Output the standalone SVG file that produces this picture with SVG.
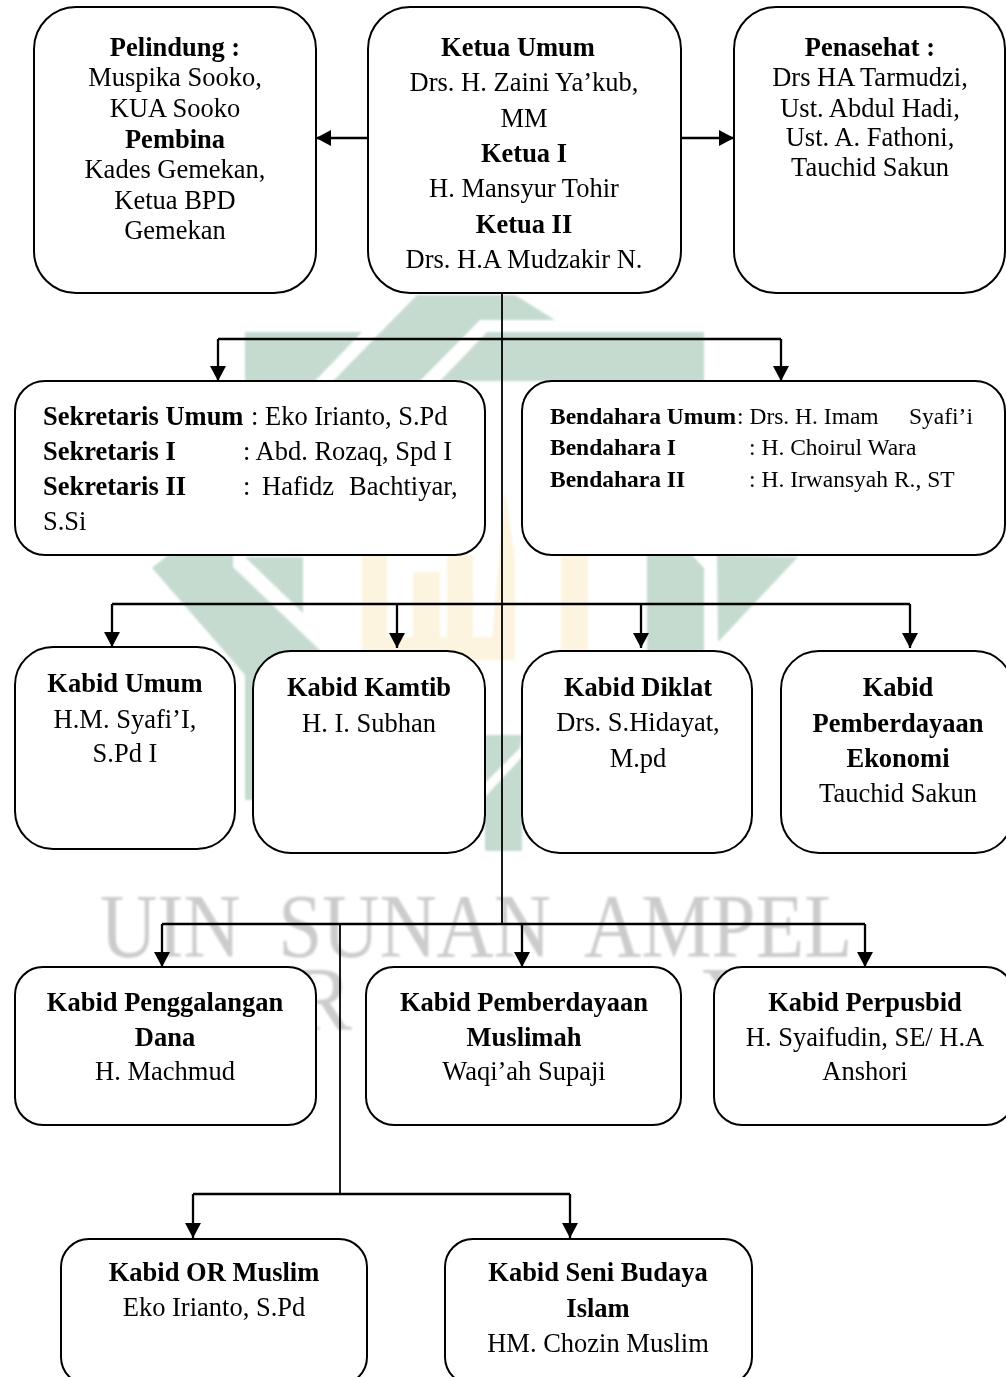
<svg xmlns="http://www.w3.org/2000/svg" width="1006" height="1377" viewBox="0 0 1006 1377">
<style>
text{font-family:"Liberation Serif","Times New Roman",serif;font-size:26.5px;fill:#000}
.c{text-anchor:middle}
.b{font-weight:bold}
.s{font-size:23.5px}
.n{fill:#fff;stroke:#000;stroke-width:2}
.g{fill:#c5dbcf}
.y{fill:#fdf4e0}
.w{font-size:90px;fill:#cccccc}
.l{fill:none;stroke:#000;stroke-width:2.3}
.t{fill:none;stroke:#000;stroke-width:1.8}
.a{marker-end:url(#h)}
</style>
<defs>
<marker id="h" markerUnits="userSpaceOnUse" markerWidth="16" markerHeight="16" refX="15" refY="8" orient="auto"><path d="M0 0L15 8L0 16Z" fill="#000"/></marker>
<filter id="bl" x="-5%" y="-5%" width="110%" height="110%"><feGaussianBlur stdDeviation="0.8"/></filter>
</defs>
<rect width="1006" height="1377" fill="#fff"/>
<g id="watermark" filter="url(#bl)">
<path class="g" d="M245 332H362L315 381H245Z"/>
<path class="g" d="M333 381L417 295H515L555 320H480L420 381Z"/>
<path class="g" d="M487 332H704V381H440Z"/>
<path class="g" d="M152 568L168 555H233V567L330 660V800H245V675Z"/>
<path class="g" d="M245 557H303V613Z"/>
<path class="g" d="M647 555H692L704 568V660H647Z"/>
<path class="g" d="M717 555L798 557L718 642Z"/>
<path class="g" d="M485 735H522L520 748L485 783Z"/>
<path class="g" d="M485 797L522 757V851H485Z"/>
<path class="y" d="M362 555H387V637H413V572H440V637H447V555H473V637H492L505 490L515 560V660H362Z"/>
<path class="y" d="M561 555H588V650H561Z"/>
<text class="w" transform="translate(100 957) scale(.88 1)" word-spacing="20">UIN SUNAN AMPEL</text>
<text class="w" x="292" y="1030">R</text>
<text class="w" x="702" y="1030">Y</text>
</g>
<g id="connectors">
<path class="t" d="M502 293V924"/>
<path class="l a" d="M368 138H316"/>
<path class="l a" d="M681 138H734"/>
<path class="l a" d="M218 339V381"/>
<path class="l a" d="M781 339V381"/>
<path class="l" d="M218 339H781"/>
<path class="l" d="M112 604H910"/>
<path class="l a" d="M112 604V647"/>
<path class="l a" d="M397 604V648"/>
<path class="l a" d="M641 604V648"/>
<path class="l a" d="M910 604V648"/>
<path class="l" d="M162 924H865"/>
<path class="l a" d="M162 924V967"/>
<path class="l a" d="M522 924V967"/>
<path class="l a" d="M865 924V967"/>
<path class="t" d="M340 924V1194"/>
<path class="l" d="M193 1194H570"/>
<path class="l a" d="M193 1194V1238"/>
<path class="l a" d="M570 1194V1238"/>
</g>
<g id="pelindung"><rect class="n" x="34" y="7" width="282" height="286" rx="42"/>
<text class="c b" x="175" y="56">Pelindung :</text><text class="c" x="175" y="86">Muspika Sooko,</text><text class="c" x="175" y="117">KUA Sooko</text><text class="c b" x="175" y="148">Pembina</text><text class="c" x="175" y="178">Kades Gemekan,</text><text class="c" x="175" y="209">Ketua BPD</text><text class="c" x="175" y="239">Gemekan</text></g>
<g id="ketua"><rect class="n" x="368" y="7" width="313" height="286" rx="42"/>
<text class="c b" x="518" y="56">Ketua Umum</text><text class="c" x="524" y="91">Drs. H. Zaini Ya’kub,</text><text class="c" x="524" y="127">MM</text><text class="c b" x="524" y="162">Ketua I</text><text class="c" x="524" y="197">H. Mansyur Tohir</text><text class="c b" x="524" y="233">Ketua II</text><text class="c" x="524" y="268">Drs. H.A Mudzakir N.</text></g>
<g id="penasehat"><rect class="n" x="734" y="7" width="271" height="286" rx="42"/>
<text class="c b" x="870" y="56">Penasehat :</text><text class="c" x="870" y="86">Drs HA Tarmudzi,</text><text class="c" x="870" y="117">Ust. Abdul Hadi,</text><text class="c" x="870" y="146">Ust. A. Fathoni,</text><text class="c" x="870" y="176">Tauchid Sakun</text></g>
<g id="sekretaris"><rect class="n" x="15" y="381" width="470" height="174" rx="30"/>
<text class="b" x="43" y="425">Sekretaris Umum</text><text x="251" y="425">: Eko Irianto, S.Pd</text>
<text class="b" x="43" y="460">Sekretaris I</text><text x="243" y="460">: Abd. Rozaq, Spd I</text>
<text class="b" x="43" y="495">Sekretaris II</text><text x="243" y="495">:</text><text x="262" y="495">Hafidz</text><text x="349" y="495">Bachtiyar,</text>
<text x="43" y="530">S.Si</text></g>
<g id="bendahara"><rect class="n" x="522" y="381" width="483" height="174" rx="30"/>
<text class="b s" x="550" y="424">Bendahara Umum</text><text class="s" x="737" y="424">: Drs. H. Imam</text><text class="s" x="909" y="424">Syafi’i</text>
<text class="b s" x="550" y="455">Bendahara I</text><text class="s" x="749" y="455">: H. Choirul Wara</text>
<text class="b s" x="550" y="487">Bendahara II</text><text class="s" x="749" y="487">: H. Irwansyah R., ST</text></g>
<g id="umum"><rect class="n" x="15" y="647" width="220" height="202" rx="38"/>
<text class="c b" x="125" y="692">Kabid Umum</text><text class="c" x="125" y="728">H.M. Syafi’I,</text><text class="c" x="125" y="762">S.Pd I</text></g>
<g id="kamtib"><rect class="n" x="253" y="651" width="232" height="202" rx="38"/>
<text class="c b" x="369" y="696">Kabid Kamtib</text><text class="c" x="369" y="732">H. I. Subhan</text></g>
<g id="diklat"><rect class="n" x="522" y="651" width="230" height="202" rx="38"/>
<text class="c b" x="638" y="696">Kabid Diklat</text><text class="c" x="638" y="731">Drs. S.Hidayat,</text><text class="c" x="638" y="767">M.pd</text></g>
<g id="ekonomi"><rect class="n" x="781" y="651" width="232" height="202" rx="38"/>
<text class="c b" x="898" y="696">Kabid</text><text class="c b" x="898" y="732">Pemberdayaan</text><text class="c b" x="898" y="767">Ekonomi</text><text class="c" x="898" y="802">Tauchid Sakun</text></g>
<g id="penggalangan"><rect class="n" x="15" y="967" width="301" height="158" rx="28"/>
<text class="c b" x="165" y="1011">Kabid Penggalangan</text><text class="c b" x="165" y="1046">Dana</text><text class="c" x="165" y="1080">H. Machmud</text></g>
<g id="muslimah"><rect class="n" x="366" y="967" width="315" height="158" rx="28"/>
<text class="c b" x="524" y="1011">Kabid Pemberdayaan</text><text class="c b" x="524" y="1046">Muslimah</text><text class="c" x="524" y="1080">Waqi’ah Supaji</text></g>
<g id="perpusbid"><rect class="n" x="714" y="967" width="300" height="158" rx="28"/>
<text class="c b" x="865" y="1011">Kabid Perpusbid</text><text class="c" x="865" y="1046">H. Syaifudin, SE/ H.A</text><text class="c" x="865" y="1080">Anshori</text></g>
<g id="ormuslim"><rect class="n" x="61" y="1239" width="306" height="146" rx="28"/>
<text class="c b" x="214" y="1281">Kabid OR Muslim</text><text class="c" x="214" y="1316">Eko Irianto, S.Pd</text></g>
<g id="senibudaya"><rect class="n" x="445" y="1239" width="307" height="146" rx="28"/>
<text class="c b" x="598" y="1281">Kabid Seni Budaya</text><text class="c b" x="598" y="1317">Islam</text><text class="c" x="598" y="1352">HM. Chozin Muslim</text></g>
</svg>
